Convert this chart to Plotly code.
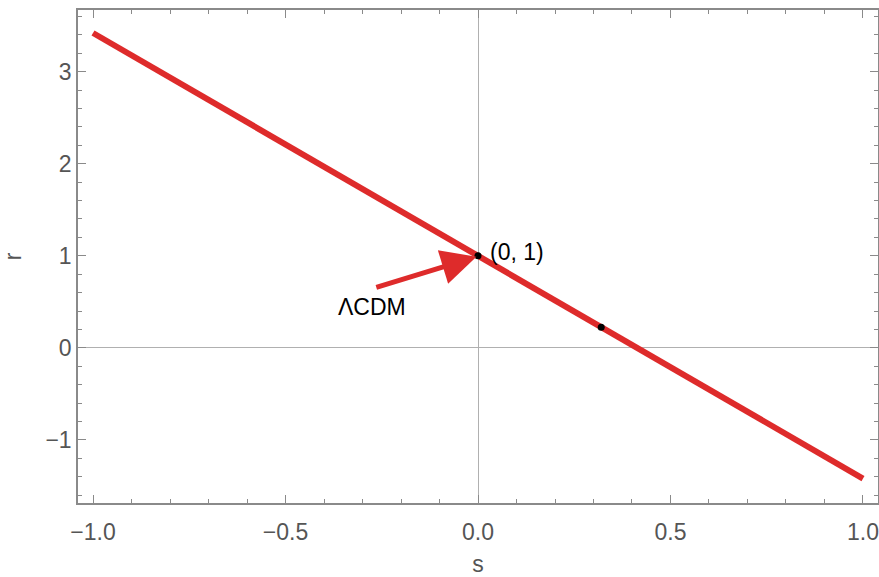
import plotly.graph_objects as go

s_line = [-1.0, 1.0]
r_line = [3.42, -1.42]
s_pts = [0.0, 0.32]
r_pts = [1.0, 0.225]
x_ticks = [-1.0, -0.5, 0.0, 0.5, 1.0]
x_tick_text = ["\u22121.0", "\u22120.5", "0.0", "0.5", "1.0"]
y_ticks = [-1, 0, 1, 2, 3]
y_tick_text = ["\u22121", "0", "1", "2", "3"]

FONT = "Liberation Sans, Arial"
RED = "#de2b2b"

fig = go.Figure()
fig.add_trace(go.Scatter(x=s_line, y=r_line, mode="lines",
                         line=dict(color=RED, width=6), showlegend=False))
fig.add_trace(go.Scatter(x=s_pts, y=r_pts, mode="markers",
                         marker=dict(color="black", size=7), showlegend=False))

fig.add_annotation(x=-0.004, y=0.99, ax=-0.268, ay=0.652, xref="x", yref="y",
                   axref="x", ayref="y", text="", showarrow=True,
                   arrowhead=2, arrowsize=1.4, arrowwidth=5, arrowcolor=RED)
fig.add_annotation(x=-0.275, y=0.44, text="\u039bCDM", showarrow=False,
                   font=dict(family=FONT, size=23, color="black"))
fig.add_annotation(x=0.026, y=1.04, text="(0, 1)", showarrow=False, xanchor="left",
                   font=dict(family=FONT, size=23, color="black"))

axis_common = dict(showline=True, linecolor="#8a8a8a", linewidth=1.5, mirror="allticks",
                   ticks="inside", ticklen=8, tickcolor="#8a8a8a", tickwidth=1,
                   showgrid=False, zeroline=True, zerolinecolor="#b0b0b0", zerolinewidth=1,
                   automargin=False,
                   tickfont=dict(family=FONT, size=23, color="#555555"))

fig.update_xaxes(range=[-1.039, 1.039], tickvals=x_ticks, ticktext=x_tick_text,
                 ticklabelstandoff=8,
                 minor=dict(dtick=0.1, tick0=0, ticks="inside", ticklen=4, tickcolor="#8a8a8a"),
                 title=dict(text="s", font=dict(family=FONT, size=23, color="#555555"), standoff=14),
                 **axis_common)
fig.update_yaxes(range=[-1.685, 3.67], tickvals=y_ticks, ticktext=y_tick_text,
                 minor=dict(dtick=0.2, tick0=0, ticks="inside", ticklen=4, tickcolor="#8a8a8a"),
                 title=dict(text="r", font=dict(family=FONT, size=23, color="#555555"), standoff=40),
                 **axis_common)

fig.update_layout(width=879, height=577, margin=dict(l=78, r=1, t=10, b=74),
                  plot_bgcolor="white", paper_bgcolor="white")
fig.write_html("out.html", config={"displayModeBar": False},
               post_script="document.body.style.margin='0';document.body.style.overflow='hidden';")
